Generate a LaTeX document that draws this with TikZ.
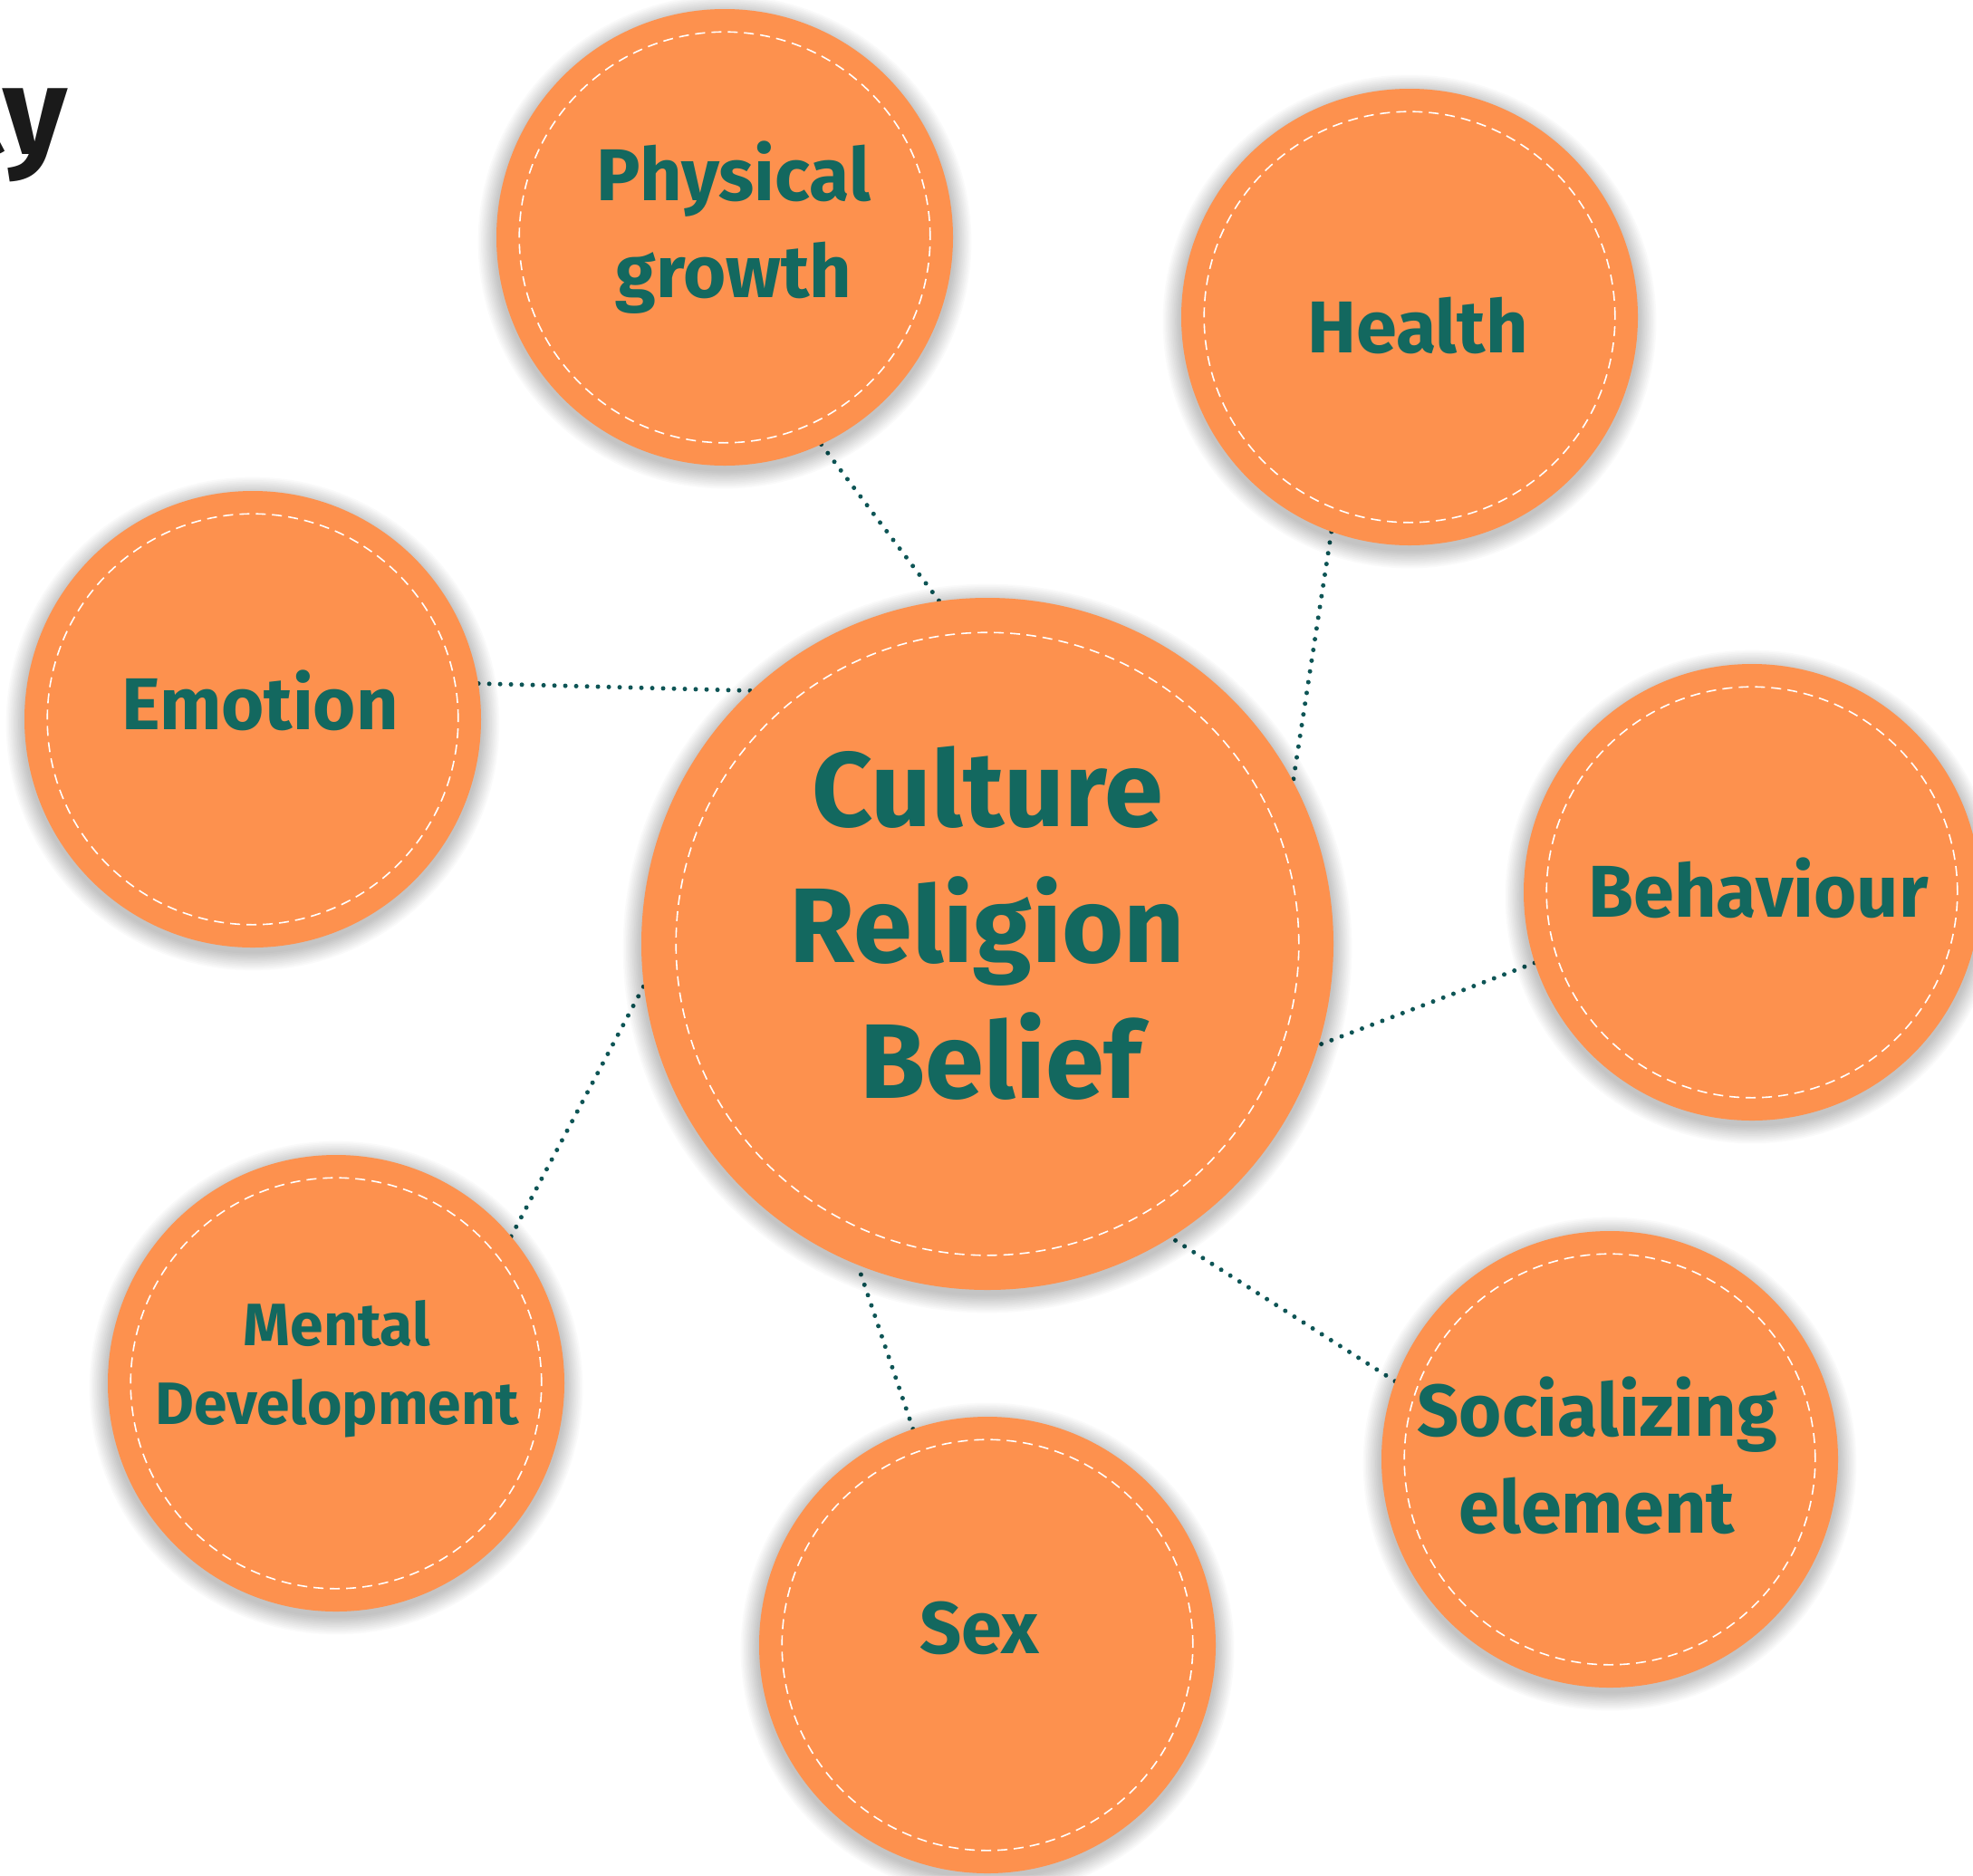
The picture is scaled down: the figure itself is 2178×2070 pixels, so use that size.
\documentclass[tikz,border=0pt]{standalone}
\usepackage{fontspec}
\setmainfont{Fira Sans}
\usetikzlibrary{backgrounds}
\definecolor{bub}{HTML}{FD914E}
\definecolor{tealtxt}{HTML}{13685F}
\definecolor{dotc}{HTML}{0E5556}
\definecolor{titlec}{HTML}{1A1A1A}
\begin{document}
\begin{tikzpicture}[x=1pt,y=-1pt,
  bubble/.style={circle, fill=bub, inner sep=0pt, minimum size={2*#1},
    path picture={\draw[white, line width=1.6pt, dash pattern=on 11pt off 7pt]
      (path picture bounding box.center) circle[radius={0.9*#1}];}},
  lbl/.style={text=tealtxt, font=\bfseries\fontsize{81}{107}\selectfont, align=center, anchor=base, inner sep=0pt},
  link/.style={dotc, line width=5pt, dash pattern=on 0pt off 12pt, line cap=round},
  shadowring/.style={black, opacity=0.02}]
\useasboundingbox (0,0) rectangle (2178,2070);
\clip (0,0) rectangle (2178,2070);
\begin{scope}[on background layer]
\fill[white] (0,0) rectangle (2178,2070);
\end{scope}
% title fragment
\node[anchor=base east, inner sep=0pt, text=titlec, font=\bfseries\fontsize{137}{137}\selectfont] (ttl) at (75,170) {ty};
% bubbles
\node[bubble=382pt] (c) at (1090,1042) {};
\node[bubble=252pt] (pg) at (800,262) {};
\node[bubble=252pt] (he) at (1556,350) {};
\node[bubble=252pt] (em) at (279,794) {};
\node[bubble=252pt] (be) at (1934,985) {};
\node[bubble=252pt] (me) at (371,1527) {};
\node[bubble=252pt] (sx) at (1090,1816) {};
\node[bubble=252pt] (so) at (1777,1611) {};
% labels (base = baseline of last line)
\node[lbl, font=\bfseries\fontsize{117}{150}\selectfont] (ct) at (1090,1212) {Culture\\Religion\\\hspace*{30pt}Belief};
\node[lbl] (pgt) at (810,328) {Physical\\growth};
\node[lbl] (het) at (1565,389) {Health};
\node[lbl] (emt) at (287,805) {Emotion};
\node[lbl] (bet) at (1941,1012) {Behaviour};
\node[lbl, font=\bfseries\fontsize{66}{87}\selectfont] (met) at (372,1572) {Mental\\Development};
\node[lbl] (sxt) at (1081,1825) {Sex};
\node[lbl] (sot) at (1763,1692) {Socializing\\element};
% connectors and soft shadows behind the bubbles
\begin{scope}[on background layer]
\draw[link] (pg.-65) -- (c.98);
\draw[link] (he.-110) -- (c.28);
\draw[link] (em.9) -- (c.133);
\draw[link] (be.-162) -- (c.-17);
\draw[link] (me.40) -- (c.-173);
\draw[link] (sx.109) -- (c.-112);
\draw[link] (so.160) -- (c.-58);
\foreach \n/\r in {c/382,pg/252,he/252,em/252,be/252,me/252,sx/252,so/252}{
  \foreach \k in {1,...,12}{
    \fill[shadowring] ([yshift=-5pt]\n.center) circle[radius={\r pt+1.7*\k pt}];
  }
}
\end{scope}
\end{tikzpicture}
\end{document}
